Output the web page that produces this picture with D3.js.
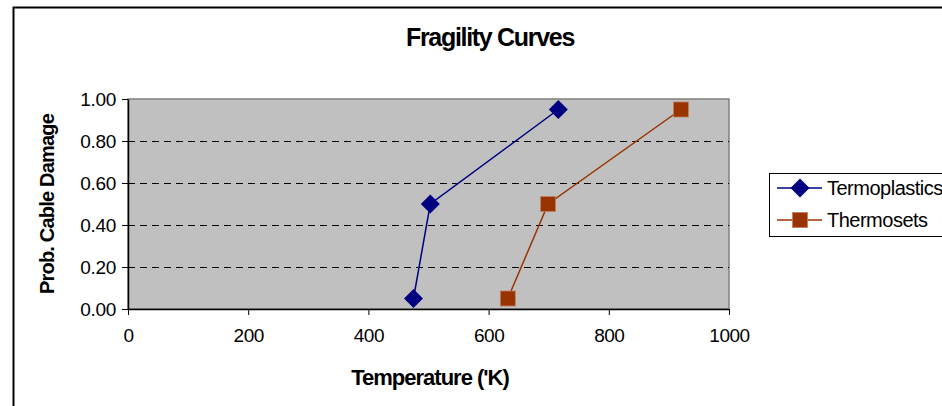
<!DOCTYPE html>
<html>
<head>
<meta charset="utf-8">
<script src="https://cdn.jsdelivr.net/npm/d3@7"></script>
<style>
  body { margin: 0; background: #fff; }
  svg { display: block; font-family: "Liberation Sans", Arial, sans-serif; }
</style>
</head>
<body>
<svg id="chart" width="942" height="406"></svg>
<script>
// data
const probs = [0.05, 0.5, 0.95];
const termoplasticsTemp = [475, 503, 716];
const thermosetsTemp = [632, 699, 920];
const seriesNames = ["Termoplastics", "Thermosets"];
const xTicks = [0, 200, 400, 600, 800, 1000];
const yTicks = [0, 0.2, 0.4, 0.6, 0.8, 1.0];

const dims = {
    width: 942,
    height: 406,
    plot: { left: 128, right: 729, top: 99, bottom: 309 }
};

const svg = d3.select("#chart");

// outer chart border (runs off the right and bottom edges)
svg.append("rect")
    .attr("x", 13.5).attr("y", 7.5)
    .attr("width", 1000).attr("height", 1000)
    .attr("fill", "none")
    .attr("stroke", "#000")
    .attr("stroke-width", 2);

var xScale = d3.scaleLinear()
    .domain([0, 1000])
    .range([dims.plot.left, dims.plot.right]);

var yScale = d3.scaleLinear()
    .domain([0, 1])
    .range([dims.plot.bottom, dims.plot.top]);

// plot background
svg.append("rect")
    .attr("x", dims.plot.left).attr("y", dims.plot.top)
    .attr("width", dims.plot.right - dims.plot.left)
    .attr("height", dims.plot.bottom - dims.plot.top)
    .attr("fill", "#c0c0c0")
    .attr("stroke", "#808080")
    .attr("stroke-width", 1.5);

// dashed gridlines
svg.append("g")
    .selectAll("line")
    .data(yTicks.filter(d => d > 0 && d < 1))
    .enter()
    .append("line")
    .attr("x1", dims.plot.left).attr("x2", dims.plot.right)
    .attr("y1", d => Math.round(yScale(d)) + 0.5).attr("y2", d => Math.round(yScale(d)) + 0.5)
    .attr("stroke", "#000")
    .attr("stroke-width", 1)
    .attr("stroke-dasharray", "7,5");

// x axis
var xAxis = svg.append("g")
    .attr("transform", `translate(0, ${dims.plot.bottom})`)
    .call(d3.axisBottom(xScale).tickValues(xTicks).tickFormat(d3.format("d"))
        .tickSize(6).tickSizeOuter(0).tickPadding(14));
xAxis.select(".domain").attr("stroke", "#000").attr("stroke-width", 1.5);
xAxis.selectAll(".tick line").attr("stroke", "#000");
xAxis.selectAll("text")
    .style("font-size", "19px")
    .style("letter-spacing", "-0.5px")
    .attr("fill", "#000");

// y axis
var yAxis = svg.append("g")
    .attr("transform", `translate(${dims.plot.left}, 0)`)
    .call(d3.axisLeft(yScale).tickValues(yTicks).tickFormat(d3.format(".2f"))
        .tickSize(6).tickSizeOuter(0).tickPadding(6));
yAxis.select(".domain").attr("stroke", "#000").attr("stroke-width", 1.5);
yAxis.selectAll(".tick line").attr("stroke", "#000");
yAxis.selectAll("text")
    .style("font-size", "19px")
    .style("letter-spacing", "-0.3px")
    .attr("fill", "#000");

// titles
svg.append("text")
    .attr("x", 490).attr("y", 46)
    .attr("text-anchor", "middle")
    .style("font-size", "25px")
    .style("font-weight", "bold")
    .style("letter-spacing", "-1.3px")
    .text("Fragility Curves");

svg.append("text")
    .attr("x", 430).attr("y", 385)
    .attr("text-anchor", "middle")
    .style("font-size", "22px")
    .style("font-weight", "bold")
    .style("letter-spacing", "-1px")
    .text("Temperature ('K)");

svg.append("text")
    .attr("transform", `translate(54, ${(dims.plot.top + dims.plot.bottom) / 2}) rotate(-90)`)
    .attr("text-anchor", "middle")
    .style("font-size", "20px")
    .style("font-weight", "bold")
    .style("letter-spacing", "-0.8px")
    .text("Prob. Cable Damage");

// series
const series = [
    { name: seriesNames[0], temps: termoplasticsTemp, color: "#000080", marker: "diamond" },
    { name: seriesNames[1], temps: thermosetsTemp, color: "#993300", marker: "square" }
];

var line = d3.line()
    .x(d => xScale(d[0]))
    .y(d => yScale(d[1]));

function drawMarker(g, kind, color) {
    if (kind === "diamond") {
        g.append("path")
            .attr("d", "M0,-9.5L9.5,0L0,9.5L-9.5,0Z")
            .attr("fill", color);
    } else {
        g.append("rect")
            .attr("x", -7.5).attr("y", -7.5)
            .attr("width", 15).attr("height", 15)
            .attr("fill", color)
            .attr("stroke", "#c08060")
            .attr("stroke-width", 0.8);
    }
}

series.forEach(s => {
    const pts = s.temps.map((t, i) => [t, probs[i]]);
    svg.append("path")
        .datum(pts)
        .attr("fill", "none")
        .attr("stroke", s.color)
        .attr("stroke-width", 1.5)
        .attr("d", line);
    pts.forEach(p => {
        const g = svg.append("g")
            .attr("transform", `translate(${xScale(p[0])}, ${yScale(p[1])})`);
        drawMarker(g, s.marker, s.color);
    });
});

// legend
svg.append("rect")
    .attr("x", 769.5).attr("y", 173.5)
    .attr("width", 200).attr("height", 63)
    .attr("fill", "#fff")
    .attr("stroke", "#000")
    .attr("stroke-width", 1);

const legend = svg.selectAll(".legend")
    .data(series)
    .enter()
    .append("g")
    .attr("class", "legend")
    .attr("transform", (d, i) => `translate(777, ${188 + i * 32})`);

legend.append("line")
    .attr("x1", 0).attr("x2", 45)
    .attr("stroke", d => d.color)
    .attr("stroke-width", 1.5);

legend.each(function(d) {
    const g = d3.select(this).append("g").attr("transform", "translate(23, 0)");
    drawMarker(g, d.marker, d.color);
});

legend.append("text")
    .attr("x", 50)
    .attr("dy", "0.35em")
    .style("font-size", "20px")
    .style("letter-spacing", "-0.5px")
    .text(d => d.name);
</script>
</body>
</html>
